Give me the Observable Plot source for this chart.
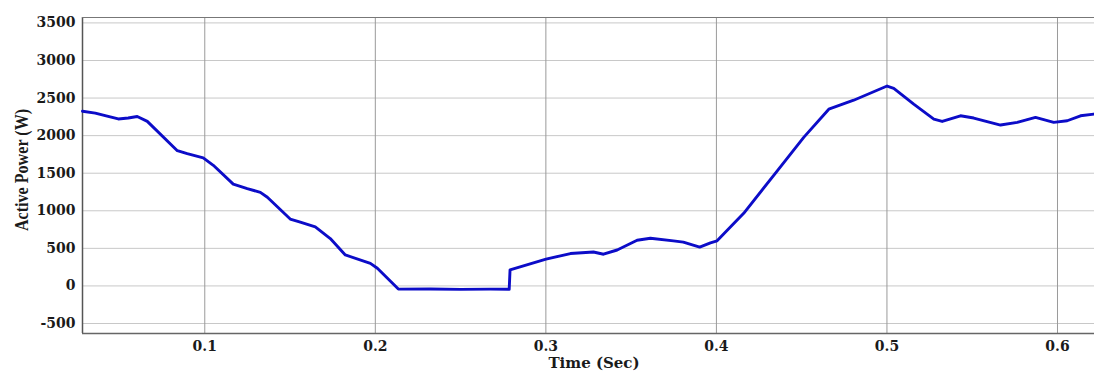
<!DOCTYPE html>
<html>
<head>
<meta charset="utf-8">
<script src="https://cdn.jsdelivr.net/npm/d3@7"></script>
<script src="https://cdn.jsdelivr.net/npm/@observablehq/plot@0.6"></script>
<style>
  html, body { margin: 0; padding: 0; background: #fff; }
  #chart { position: relative; width: 1094px; height: 372px; }
  .ylab { position: absolute; left: 22px; top: 170px; transform: translate(-50%, -50%) rotate(-90deg) scale(0.92, 1.12);
          font: bold 17.5px "Liberation Serif", serif; color: #1a1a1a; white-space: nowrap; }
  .xlab { position: absolute; left: 594px; top: 363px; transform: translate(-50%, -50%);
          font: bold 15px "DejaVu Serif", serif; color: #1a1a1a; white-space: nowrap; }
</style>
</head>
<body>
<div id="chart"></div>
<script>
// Time (s) and active power (W)
const time = [0.0283, 0.0358, 0.0416, 0.0493, 0.0551, 0.0604, 0.0663, 0.0839, 0.0897, 0.0991,
  0.105, 0.1167, 0.1249, 0.1326, 0.1367, 0.1501, 0.156, 0.1648, 0.1736, 0.1824,
  0.1971, 0.2012, 0.2135, 0.2323, 0.2499, 0.2675, 0.2785, 0.2790, 0.3001, 0.3144,
  0.3279, 0.3338, 0.3418, 0.3535, 0.3613, 0.3748, 0.3806, 0.3902, 0.3965, 0.4004,
  0.416, 0.4336, 0.4512, 0.4659, 0.4805, 0.5001, 0.504, 0.5157, 0.5275, 0.5324,
  0.5431, 0.5509, 0.5666, 0.5764, 0.5871, 0.5978, 0.6057, 0.6135, 0.6213];
const power = [2325, 2300, 2265, 2222, 2235, 2255, 2190, 1800, 1760, 1705,
  1605, 1355, 1295, 1245, 1180, 890, 848, 785, 630, 412,
  300, 235, -42, -40, -46, -42, -45, 215, 356, 431,
  452, 422, 478, 608, 634, 600, 583, 517, 574, 600,
  966, 1472, 1977, 2352, 2471, 2660, 2630, 2419, 2220, 2189,
  2264, 2234, 2141, 2176, 2242, 2176, 2198, 2264, 2287];
const xTicks = [0.1, 0.2, 0.3, 0.4, 0.5, 0.6];
const yTicks = [-500, 0, 500, 1000, 1500, 2000, 2500, 3000, 3500];

const data = time.map((t, i) => ({t, p: power[i]}));
const xDomain = [0.0283, 0.6217];
const yDomain = [-633, 3572];

const chart = Plot.plot({
  width: 1094,
  height: 372,
  marginLeft: 82,
  marginRight: 0,
  marginTop: 17,
  marginBottom: 39,
  style: {background: "#fff", fontFamily: "'DejaVu Serif', serif", fontWeight: "bold", fontSize: "14px", color: "#1a1a1a"},
  x: {domain: xDomain, label: null},
  y: {domain: yDomain, label: null},
  marks: [
    Plot.ruleY(yTicks, {stroke: "#c8c8c8", strokeWidth: 1}),
    Plot.ruleX(xTicks, {stroke: "#9a9a9a", strokeWidth: 1}),
    Plot.ruleX([xDomain[0]], {stroke: "#555", strokeWidth: 1.5}),
    Plot.ruleY([yDomain[0]], {stroke: "#666", strokeWidth: 1.5}),
    Plot.ruleY([yDomain[1]], {stroke: "#777", strokeWidth: 1.2}),
    Plot.axisX({ticks: xTicks, tickSize: 0, tickPadding: 8, tickFormat: d3.format(".1f"), label: null}),
    Plot.axisY({ticks: yTicks, tickSize: 0, tickPadding: 7, tickFormat: d => String(d), label: null}),
    Plot.line(data, {x: "t", y: "p", stroke: "#0c0cc8", strokeWidth: 2.9, strokeLinejoin: "round"})
  ]
});
const root = document.getElementById("chart");
root.appendChild(chart);
const yl = document.createElement("div"); yl.className = "ylab"; yl.textContent = "Active Power (W)"; root.appendChild(yl);
const xl = document.createElement("div"); xl.className = "xlab"; xl.textContent = "Time (Sec)"; root.appendChild(xl);
</script>
</body>
</html>
